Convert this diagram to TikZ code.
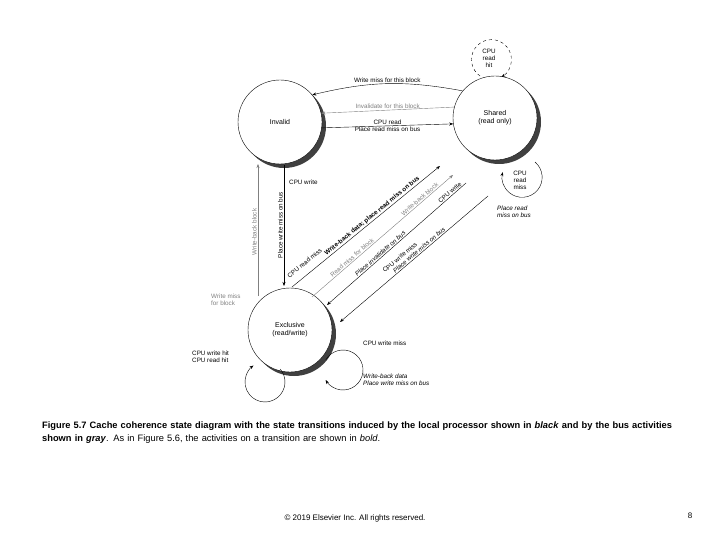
\documentclass[tikz,border=0pt]{standalone}
\usepackage{fontspec}
\setmainfont{Liberation Sans}
\usetikzlibrary{arrows.meta}
\begin{document}
\begin{tikzpicture}[x=1pt,y=1pt,
  st/.style={circle,draw,fill=white,minimum size=84pt,inner sep=0pt,font=\fontsize{7}{8}\selectfont,align=center},
  lb/.style={font=\fontsize{6.3}{7}\selectfont,inner sep=1pt},
  gl/.style={lb,text=gray},
  ar/.style={-{Stealth[length=4pt,width=3pt]},thin},
  gar/.style={ar,gray}]
\useasboundingbox (0,0) rectangle (720,-540);
% shadows
\fill[black!75] (284,-126) circle (42);
\fill[black!75] (499,-122) circle (42);
\fill[black!75] (294,-334) circle (42);
\node[st] (inv) at (280,-122) {Invalid};
\node[st] (sh) at (495,-118) {Shared\\(read only)};
\node[st] (ex) at (290,-330) {Exclusive\\(read/write)};
% top
\draw[ar] (sh.140) to[bend right=12] node[lb,above]{Write miss for this block} (inv.40);
\draw[gar] (sh.165) -- node[gl,above]{Invalidate for this block} (inv.12);
\draw[ar] (inv.-8) -- node[lb,above]{CPU read} node[lb,below]{Place read miss on bus} (sh.-172);
% vertical
\coordinate (vb1) at (258,-296); \coordinate (vb2) at (258,-164);
\draw[gar] (vb1) -- (vb2);
\node[gl,rotate=90,anchor=south] (wbb) at (258,-232) {Write-back block};
\coordinate (vp1) at (284,-165); \coordinate (vp2) at (284,-286);
\draw[ar] (vp1) -- (vp2);
\node[lb,rotate=90,anchor=south] (pwm) at (284,-225) {Place write miss on bus};
\node[lb,anchor=west] (cw) at (288,-182) {CPU write};
\node[gl,align=left,anchor=west] (wm) at (210,-300) {Write miss\\for block};
% diagonals
\coordinate (d1a) at (292,-287); \coordinate (d1b) at (440,-166);
\draw[ar] (d1a) -- node[lb,above,sloped,pos=0.13,yshift=7pt]{CPU read miss} node[lb,above,sloped,pos=0.56,font=\fontsize{6.3}{7}\selectfont\bfseries]{Write-back data; place read miss on bus} (d1b);
\coordinate (d2a) at (312,-297); \coordinate (d2b) at (453,-175);
\draw[gar] (d2a) -- node[gl,above,sloped,pos=0.3]{Read miss for block} node[gl,above,sloped,pos=0.78]{Write-back block} (d2b);
\coordinate (d3a) at (466,-183); \coordinate (d3b) at (327,-305);
\draw[ar] (d3a) -- node[lb,above,sloped,pos=0.1]{CPU write} node[lb,above,sloped,pos=0.6,font=\fontsize{6.3}{7}\selectfont\itshape]{Place invalidate on bus} (d3b);
\coordinate (d4a) at (488,-196); \coordinate (d4b) at (340,-322);
\draw[ar] (d4a) -- node[lb,above,sloped,pos=0.55,yshift=7pt]{CPU write miss} node[lb,above,sloped,pos=0.45,font=\fontsize{6.3}{7}\selectfont\itshape]{Place write miss on bus} (d4b);
% loops
\draw[ar,dashed] (480,-76) arc[start angle=235,end angle=-60,radius=20];
\node[lb,align=center] (rh) at (489,-58) {CPU\\read\\hit};
\draw[ar] (535,-162) arc[start angle=50,end angle=-195,radius=20];
\node[lb,align=center] (rm) at (520,-180) {CPU\\read\\miss};
\node[lb,align=left,anchor=west,font=\fontsize{6.3}{7}\selectfont\itshape] (rmb) at (496,-212) {Place read\\miss on bus};
\draw[ar] (280.3,-369.1) arc[start angle=40,end angle=-235,radius=20];
\node[lb,align=left,anchor=west] (wh) at (191,-357) {CPU write hit\\CPU read hit};
\draw[ar] (325.7,-360) arc[start angle=150,end angle=-150,radius=20];
\node[lb,anchor=west] (cwm) at (362,-343) {CPU write miss};
\node[lb,align=left,anchor=west,font=\fontsize{6.3}{7}\selectfont\itshape] (wbd) at (362,-380) {Write-back data\\Place write miss on bus};
% caption
\node[anchor=north west,align=left,text width=640pt,font=\fontsize{9.3}{13}\selectfont,inner sep=0pt] (cap) at (42,-422) {\textbf{Figure 5.7 Cache coherence state diagram with the state transitions induced by the local processor shown in} \textbf{\textit{black}} \textbf{and by the bus activities shown in} \textbf{\textit{gray}}. As in Figure 5.6, the activities on a transition are shown in \textit{bold}.};
\node[font=\fontsize{8}{9}\selectfont] (cp) at (355,-518) {© 2019 Elsevier Inc. All rights reserved.};
\node[font=\fontsize{8}{9}\selectfont] (pg) at (690,-516) {8};
\end{tikzpicture}
\end{document}
